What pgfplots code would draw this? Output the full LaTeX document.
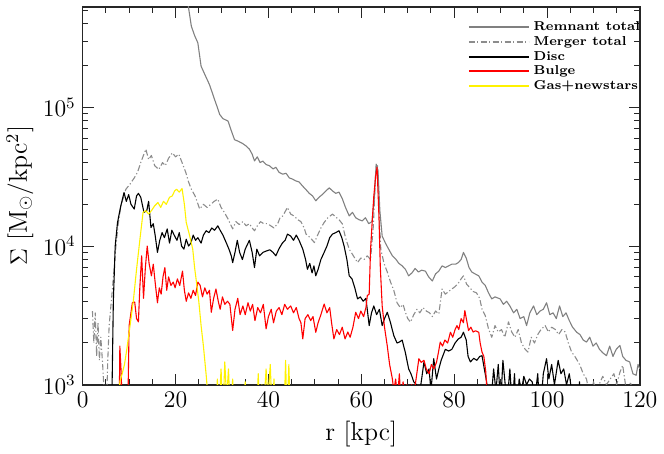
\documentclass[border=0pt]{standalone}
\usepackage{fontspec}
\usepackage{pgfplots}
\pgfplotsset{compat=1.18}

\definecolor{remgray}{gray}{0.5}
\definecolor{mergray}{gray}{0.55}

\begin{document}
\begin{tikzpicture}
\begin{axis}[
  scale only axis,
  width=279.5bp, height=189.5bp,
  xmin=0, xmax=120,
  ymode=log, ymin=1000, ymax=5.3e5,
  xtick={0,20,...,120},
  minor x tick num=3,
  tick align=inside,
  major tick length=5.5bp,
  minor tick length=2.8bp,
  every tick/.style={black!85, line width=0.5pt},
  axis line style={black!85, line width=0.8pt},
  ticklabel style={font=\fontsize{12}{14}\selectfont},
  label style={font=\fontsize{13}{15}\selectfont},
  xlabel={r [kpc]},
  ylabel={$\Sigma$ [M$_\odot$/kpc$^2$]},
  ylabel style={yshift=-2pt},
  legend cell align=left,
  legend style={draw=none, fill=none, at={(1.008,0.966)}, anchor=north east,
    inner xsep=0pt, inner ysep=0pt,
    font=\fontsize{6.5}{7}\selectfont\bfseries,
    nodes={inner ysep=0.3bp, text height=5bp, text depth=1.45bp},
    row sep=0.3bp,
    /tikz/every even column/.append style={column sep=3pt}},
  legend image code/.code={\draw[#1, line width=1pt] (0bp,0bp) -- (30bp,0bp);},
  every axis plot/.append style={line width=0.55pt, line join=round},
  after end axis/.code={\path (rel axis cs:0,1) ++(0,3.5bp);},
]
% Remnant total
\addplot[color=remgray] coordinates {
(22,8e5) (22.7,5.5e5) (23.4,3.85e5) (24.1,3.3e5) (24.8,2.92e5) (25.5,1.98e5) (26.4,1.7e5) (27.3,1.46e5) (28.0,1.25e5) (28.4,1.14e5) (29.0,1.0e5) (29.5,8.9e4) (30.2,8.3e4) (31.3,7.97e4) (32.0,6.8e4) (32.7,5.85e4) (33.5,5.7e4) (34.4,5.5e4) (35.2,5.27e4) (35.9,5.0e4) (36.5,4.6e4) (37.0,4.11e4) (37.6,4.4e4) (38.2,4.0e4) (38.8,4.1e4) (39.5,3.87e4) (40.2,3.8e4) (41.0,3.6e4) (41.6,3.7e4) (42.3,3.4e4) (43.1,3.3e4) (43.8,3.35e4) (44.5,3.1e4) (45.2,3.04e4) (45.9,2.95e4) (46.6,2.9e4) (47.4,2.7e4) (48.1,2.55e4) (48.8,2.4e4) (49.5,2.3e4) (50.2,2.12e4) (50.9,2.25e4) (51.6,2.35e4) (52.4,2.5e4) (53.1,2.63e4) (53.8,2.5e4) (54.5,2.4e4) (55.2,2.45e4) (55.9,2.2e4) (56.6,1.9e4) (57.4,1.65e4) (58.1,1.75e4) (58.8,1.6e4) (59.5,1.55e4) (60.2,1.52e4) (60.9,1.6e4) (61.6,1.45e4) (62.3,1.5e4) (62.8,2.2e4) (63.2,3.9e4) (63.6,3.5e4) (64.0,1.8e4) (64.5,1.18e4) (65.2,1.05e4) (65.9,9.5e3) (66.7,8.5e3) (67.4,8.07e3) (68.1,7.5e3) (68.8,7.2e3) (69.5,6.8e3) (70.2,6.1e3) (70.9,6.4e3) (71.6,6.9e3) (72.3,6.5e3) (73.0,6.7e3) (73.8,6.6e3) (74.5,6.0e3) (75.3,5.6e3) (76.0,6.3e3) (76.7,6.6e3) (77.4,7.2e3) (78.1,7.0e3) (78.8,7.2e3) (79.5,7.4e3) (80.3,7.4e3) (80.9,7.6e3) (81.5,8.0e3) (82.0,9.0e3) (82.6,8.2e3) (83.2,7.0e3) (83.8,6.5e3) (84.5,6.3e3) (85.3,6.1e3) (86.0,5.5e3) (86.7,5.2e3) (87.4,4.6e3) (88.1,4.16e3) (88.8,4.3e3) (89.9,4.16e3) (90.6,3.8e3) (91.3,4.0e3) (92.0,3.7e3) (92.8,3.3e3) (93.5,3.5e3) (94.2,3.0e3) (95.0,3.1e3) (95.6,2.67e3) (96.3,3.3e3) (97.1,3.7e3) (97.8,3.2e3) (98.5,3.4e3) (99.2,3.5e3) (99.9,3.9e3) (100.6,3.2e3) (101.3,3.3e3) (102.0,3.0e3) (102.7,3.7e3) (103.4,3.1e3) (104.1,3.3e3) (104.8,2.9e3) (105.5,2.6e3) (106.4,2.39e3) (107.1,2.3e3) (107.8,2.1e3) (108.5,2.03e3) (109.2,2.2e3) (109.9,1.9e3) (110.6,2.0e3) (111.3,1.8e3) (112.0,1.7e3) (112.8,1.62e3) (113.5,1.9e3) (114.2,1.6e3) (114.9,1.8e3) (115.7,1.92e3) (116.3,1.6e3) (117.0,1.5e3) (117.8,1.46e3) (118.5,1.2e3) (119.2,1.17e3) (119.6,1.4e3) (120,1.3e3)
};
\addlegendentry{Remnant total}
% Merger total
\addplot[color=mergray, dash pattern=on 3bp off 1.2bp on 0.6bp off 1.2bp] coordinates {
(2.1,3.4e3) (2.4,2.0e3) (2.7,3.3e3) (3.0,1.6e3) (3.3,2.8e3) (3.6,1.5e3) (3.9,2.2e3) (4.3,1.4e3) (4.6,900) (5.0,500) (5.4,1.5e3) (5.7,2.67e3) (6.4,4.9e3) (7.1,9.5e3) (7.6,1.4e4) (8.2,1.94e4) (9.3,2.57e4) (10.2,2.8e4) (11.1,3.1e4) (11.8,3.4e4) (12.5,4.0e4) (13.6,5.0e4) (14.2,4.2e4) (14.8,4.5e4) (15.5,3.8e4) (16.4,3.57e4) (17.2,4.0e4) (17.8,3.8e4) (18.5,4.3e4) (19.3,4.7e4) (20.0,4.4e4) (20.7,4.6e4) (21.4,4.0e4) (22.2,3.4e4) (22.8,2.9e4) (23.4,2.57e4) (24.2,2.3e4) (25.2,1.85e4) (26.0,2.0e4) (26.8,1.9e4) (27.6,2.0e4) (28.3,2.1e4) (29.1,2.18e4) (29.8,1.9e4) (30.5,1.75e4) (31.3,1.57e4) (32.3,1.33e4) (33.0,1.5e4) (33.7,1.43e4) (34.5,1.5e4) (35.2,1.4e4) (35.9,1.45e4) (36.5,1.35e4) (37.0,1.29e4) (37.6,1.4e4) (38.3,1.5e4) (39.0,1.45e4) (39.8,1.45e4) (40.5,1.4e4) (41.2,1.35e4) (42.0,1.45e4) (42.5,1.6e4) (43.1,1.65e4) (44.1,1.9e4) (44.8,1.7e4) (45.5,1.65e4) (46.3,1.55e4) (47.0,1.5e4) (47.7,1.35e4) (48.1,1.22e4) (49.0,1.15e4) (49.9,1.06e4) (50.6,1.2e4) (51.3,1.35e4) (52.0,1.48e4) (52.8,1.6e4) (53.8,1.7e4) (54.5,1.62e4) (55.2,1.55e4) (55.9,1.45e4) (56.6,1.15e4) (57.4,9.5e3) (58.3,8.5e3) (59.2,7.6e3) (59.9,8.2e3) (60.6,8.0e3) (61.3,8.5e3) (62.0,8.0e3) (62.6,1.4e4) (63.1,3.4e4) (63.5,3.8e4) (63.9,1.6e4) (64.2,9.5e3) (64.9,7.5e3) (65.6,6.5e3) (66.3,5.5e3) (67.0,4.8e3) (67.7,3.9e3) (68.4,3.6e3) (69.0,3.8e3) (69.5,3.33e3) (70.0,3.0e3) (70.6,2.83e3) (71.3,3.2e3) (72.0,3.5e3) (72.6,3.3e3) (73.3,3.6e3) (74.0,3.4e3) (74.7,3.3e3) (75.3,3.1e3) (76.0,3.4e3) (76.7,3.24e3) (77.4,4.9e3) (78.1,4.5e3) (78.8,4.7e3) (79.5,4.9e3) (80.2,5.1e3) (80.9,5.4e3) (81.5,5.8e3) (82.0,6.1e3) (82.7,5.3e3) (83.4,5.0e3) (84.1,4.7e3) (84.8,4.6e3) (85.5,4.2e3) (86.0,3.5e3) (86.7,3.15e3) (87.4,2.53e3) (88.1,2.2e3) (88.8,2.67e3) (89.5,2.4e3) (90.2,2.5e3) (90.9,2.2e3) (91.7,2.84e3) (92.4,2.4e3) (93.1,2.2e3) (93.8,2.5e3) (94.5,2.0e3) (95.3,1.8e3) (95.9,1.72e3) (96.6,2.2e3) (97.3,2.0e3) (98.0,2.3e3) (98.7,2.5e3) (99.6,2.67e3) (100.3,2.4e3) (101.0,2.6e3) (101.8,2.5e3) (102.5,2.3e3) (103.2,2.5e3) (103.9,2.4e3) (104.6,2.0e3) (105.3,1.72e3) (106.0,1.6e3) (106.5,1.5e3) (107.1,1.38e3) (107.8,1.2e3) (108.5,1.1e3) (109.0,900) (109.5,800) (110.0,1.05e3) (110.5,900) (111.2,1.0e3) (112.0,1.15e3) (112.8,1.0e3) (113.6,1.1e3) (114.4,1.2e3) (115.0,1.0e3) (115.7,1.23e3) (116.3,1.38e3) (116.9,1.0e3) (117.5,900) (118.0,1.05e3) (118.5,800) (119.0,600)
};
\addlegendentry{Merger total}
% Disc
\addplot[color=black] coordinates {
(6.2,500) (6.6,4.0e3) (7.0,1.0e4) (7.5,1.48e4) (8.2,1.94e4) (8.9,2.43e4) (9.4,2.1e4) (9.9,2.35e4) (10.4,2.0e4) (11.1,1.85e4) (11.6,2.3e4) (12.0,2.4e4) (12.5,2.25e4) (13.2,1.75e4) (13.8,1.8e4) (14.2,2.1e4) (14.7,1.36e4) (15.2,1.45e4) (15.6,1.2e4) (16.1,9.0e3) (16.6,1.1e4) (17.1,1.25e4) (17.6,1.15e4) (18.2,1.33e4) (18.7,1.05e4) (19.2,1.3e4) (19.7,1.2e4) (20.3,1.1e4) (20.8,1.25e4) (21.3,1.0e4) (21.8,9.5e3) (22.3,1.12e4) (22.8,1.0e4) (23.3,1.05e4) (23.8,1.2e4) (24.3,1.1e4) (24.8,1.15e4) (25.5,1.05e4) (26.0,1.2e4) (26.6,1.29e4) (27.2,1.25e4) (27.8,1.35e4) (28.4,1.3e4) (29.1,1.4e4) (29.6,1.3e4) (30.2,1.2e4) (30.9,1.06e4) (31.5,9.5e3) (32.0,8.5e3) (32.3,7.6e3) (32.8,9.0e3) (33.3,1.1e4) (33.8,9.0e3) (34.4,8.0e3) (35.0,9.5e3) (35.9,1.1e4) (36.5,9.0e3) (37.0,7.0e3) (37.5,9.5e3) (38.1,8.5e3) (38.8,9.0e3) (39.5,9.2e3) (40.3,9.4e3) (41.0,9.0e3) (41.6,8.5e3) (42.3,9.6e3) (43.0,1.05e4) (43.6,1.1e4) (44.1,1.22e4) (44.8,1.18e4) (45.4,1.1e4) (46.0,1.2e4) (46.6,1.1e4) (47.4,9.5e3) (48.0,8.0e3) (48.4,6.8e3) (48.9,7.5e3) (49.4,6.4e3) (49.8,7.2e3) (50.2,6.1e3) (50.7,6.8e3) (51.3,8.0e3) (52.0,9.0e3) (52.6,1.0e4) (53.2,1.15e4) (53.8,1.22e4) (54.5,1.25e4) (55.2,1.29e4) (55.8,1.15e4) (56.3,1.0e4) (56.9,8.0e3) (57.4,6.1e3) (58.0,5.8e3) (58.6,5.0e3) (59.2,4.16e3) (59.8,4.3e3) (60.4,4.0e3) (61.0,4.2e3) (61.7,2.67e3) (62.2,3.3e3) (62.7,3.7e3) (63.3,3.2e3) (63.9,3.5e3) (64.5,2.67e3) (65.0,3.0e3) (65.6,3.33e3) (66.3,2.8e3) (67.0,2.26e3) (67.7,2.0e3) (68.2,2.03e3) (68.8,2.1e3) (69.5,1.7e3) (70.2,1.3e3) (70.7,1.2e3) (71.3,1.05e3) (71.9,1.0e3) (72.4,800) (73.0,1.1e3) (73.5,1.46e3) (74.1,1.2e3) (74.6,1.3e3) (75.0,900) (75.6,1.54e3) (76.2,1.1e3) (76.7,1.3e3) (77.2,1.5e3) (78.1,1.8e3) (78.8,1.75e3) (79.5,1.8e3) (80.2,2.0e3) (80.9,2.14e3) (81.5,2.2e3) (82.0,2.39e3) (82.6,2.1e3) (83.0,1.6e3) (83.5,1.46e3) (84.2,1.55e3) (84.9,1.5e3) (85.5,1.6e3) (86.0,1.62e3) (86.5,1.3e3) (87.0,1.05e3) (87.4,600) (88.0,800) (88.5,1.3e3) (89.0,900) (89.5,1.4e3) (90.0,700) (90.5,1.5e3) (91.0,1.0e3) (91.5,800) (92.0,1.3e3) (92.5,700) (93.0,1.2e3) (93.4,600) (94.0,1.1e3) (94.5,900) (95.0,1.15e3) (95.6,1.0e3) (96.2,1.1e3) (96.8,1.05e3) (97.4,800) (98.0,1.2e3) (98.5,600) (99.2,1.2e3) (99.9,1.54e3) (100.4,1.1e3) (101.0,1.4e3) (101.6,1.0e3) (102.4,1.5e3) (103.0,1.2e3) (103.6,1.3e3) (104.2,1.0e3) (104.8,1.2e3) (105.3,900) (105.8,600) (106.5,500) (107.0,1.05e3) (107.4,500) (108.0,400)
};
\addlegendentry{Disc}
% Bulge
\addplot[color=red] coordinates {
(7.8,400) (8.0,1.9e3) (8.3,1.2e3) (8.6,500) (9.0,400) (9.5,500) (9.8,1.0e3) (10.0,2.67e3) (10.7,3.9e3) (11.2,3.95e3) (11.6,3.0e3) (12.0,2.84e3) (12.3,5.0e3) (12.7,8.5e3) (13.1,4.2e3) (13.5,7.0e3) (13.9,1.0e4) (14.3,7.5e3) (14.8,6.1e3) (15.2,7.4e3) (15.6,5.5e3) (16.1,3.9e3) (16.5,5.0e3) (16.9,4.5e3) (17.3,6.0e3) (17.7,7.0e3) (18.1,4.8e3) (18.5,6.0e3) (19.0,5.2e3) (19.5,5.5e3) (19.9,5.0e3) (20.4,5.8e3) (20.9,5.2e3) (21.5,6.6e3) (21.9,4.8e3) (22.3,4.0e3) (22.8,4.6e3) (23.3,4.2e3) (23.8,4.8e3) (24.3,4.4e3) (24.8,5.5e3) (25.3,5.2e3) (25.8,4.3e3) (26.3,5.0e3) (26.8,4.5e3) (27.3,4.8e3) (27.7,3.33e3) (28.2,4.2e3) (28.7,4.9e3) (29.2,4.0e3) (29.6,3.5e3) (30.1,4.3e3) (30.6,3.8e3) (31.2,4.0e3) (31.7,3.8e3) (32.3,2.46e3) (32.8,3.5e3) (33.4,4.2e3) (33.9,3.2e3) (34.5,3.7e3) (35.0,3.2e3) (35.6,3.9e3) (36.1,3.4e3) (36.6,3.8e3) (37.1,2.9e3) (37.7,3.6e3) (38.3,3.3e3) (38.9,3.8e3) (39.5,2.53e3) (40.0,3.1e3) (40.6,3.5e3) (41.1,2.8e3) (41.7,3.4e3) (42.3,3.6e3) (42.9,3.2e3) (43.5,3.8e3) (44.1,3.5e3) (44.8,3.7e3) (45.4,3.3e3) (46.0,3.6e3) (46.6,3.0e3) (47.0,2.8e3) (47.4,2.14e3) (47.9,3.0e3) (48.5,3.2e3) (49.1,2.9e3) (49.6,3.1e3) (50.2,2.39e3) (50.7,2.8e3) (51.3,3.2e3) (52.0,3.82e3) (52.6,3.3e3) (53.2,3.6e3) (53.6,2.8e3) (54.1,2.14e3) (54.7,2.5e3) (55.3,2.3e3) (55.9,2.6e3) (56.5,2.14e3) (57.1,2.4e3) (57.6,2.2e3) (58.2,2.6e3) (58.8,3.33e3) (59.4,3.0e3) (59.9,3.4e3) (60.5,3.1e3) (61.0,3.6e3) (61.3,4.4e3) (61.7,4.5e3) (62.0,9.5e3) (62.4,1.6e4) (62.7,2.3e4) (63.1,3.2e4) (63.4,3.7e4) (63.8,1.65e4) (64.1,7.0e3) (64.5,3.7e3) (65.0,2.6e3) (65.6,1.9e3) (66.1,1.4e3) (66.7,1.1e3) (67.0,900) (67.4,1.1e3) (67.8,800) (68.2,1.2e3) (68.6,700) (69.0,1.05e3) (69.4,800) (69.8,1.0e3) (70.3,750) (70.8,1.0e3) (71.3,850) (71.8,1.1e3) (72.4,1.54e3) (72.9,1.45e3) (73.5,1.5e3) (74.0,1.3e3) (74.6,1.2e3) (75.1,1.4e3) (75.6,1.3e3) (76.2,1.45e3) (76.6,1.7e3) (77.0,2.03e3) (77.5,1.9e3) (78.0,2.1e3) (78.6,2.0e3) (79.2,2.39e3) (79.7,2.2e3) (80.2,2.5e3) (80.6,2.67e3) (81.0,2.5e3) (81.5,3.0e3) (82.0,2.8e3) (82.3,3.43e3) (82.7,2.9e3) (83.1,2.46e3) (83.6,2.6e3) (84.1,2.4e3) (84.6,2.45e3) (85.3,2.39e3) (85.6,2.0e3) (86.0,1.72e3) (86.4,1.6e3) (86.8,1.25e3) (87.4,600)
};
\addlegendentry{Bulge}
% Gas + new stars
\addplot[color=yellow] coordinates {
(7.6,400) (8.0,1.05e3) (8.5,1.2e3) (9.0,1.4e3) (9.5,1.8e3) (10.2,2.67e3) (10.9,4.0e3) (11.6,6.8e3) (12.3,1.1e4) (13.0,1.75e4) (13.6,1.8e4) (14.2,1.7e4) (14.8,1.8e4) (15.5,1.95e4) (16.2,2.06e4) (16.8,1.9e4) (17.4,2.1e4) (18.0,2.0e4) (18.7,2.25e4) (19.3,2.3e4) (19.8,2.5e4) (20.2,2.57e4) (20.8,2.45e4) (21.4,2.6e4) (21.9,2.0e4) (22.3,1.48e4) (23.0,1.2e4) (23.7,9.5e3) (24.1,7.0e3) (24.5,5.5e3) (25.0,4.0e3) (25.5,2.67e3) (26.0,1.9e3) (26.6,1.17e3) (27.0,800) (27.5,500) (28.5,400) (29.0,1.1e3) (29.4,700) (29.8,1.3e3) (30.2,600) (30.6,1.46e3) (31.0,800) (31.4,1.3e3) (31.8,600) (32.3,1.1e3) (32.7,500) (33.5,400) (34.5,600) (35.0,1.05e3) (35.4,500) (36.2,400) (37.4,500) (37.8,1.2e3) (38.2,600) (38.6,1.0e3) (39.0,700) (39.5,1.3e3) (39.9,800) (40.4,1.4e3) (40.8,600) (41.2,1.1e3) (41.6,500) (42.5,400) (43.3,500) (43.7,1.5e3) (44.0,600) (44.4,1.4e3) (44.8,500) (45.2,400)
};
\addlegendentry{Gas+newstars}
\end{axis}
\end{tikzpicture}
\end{document}
